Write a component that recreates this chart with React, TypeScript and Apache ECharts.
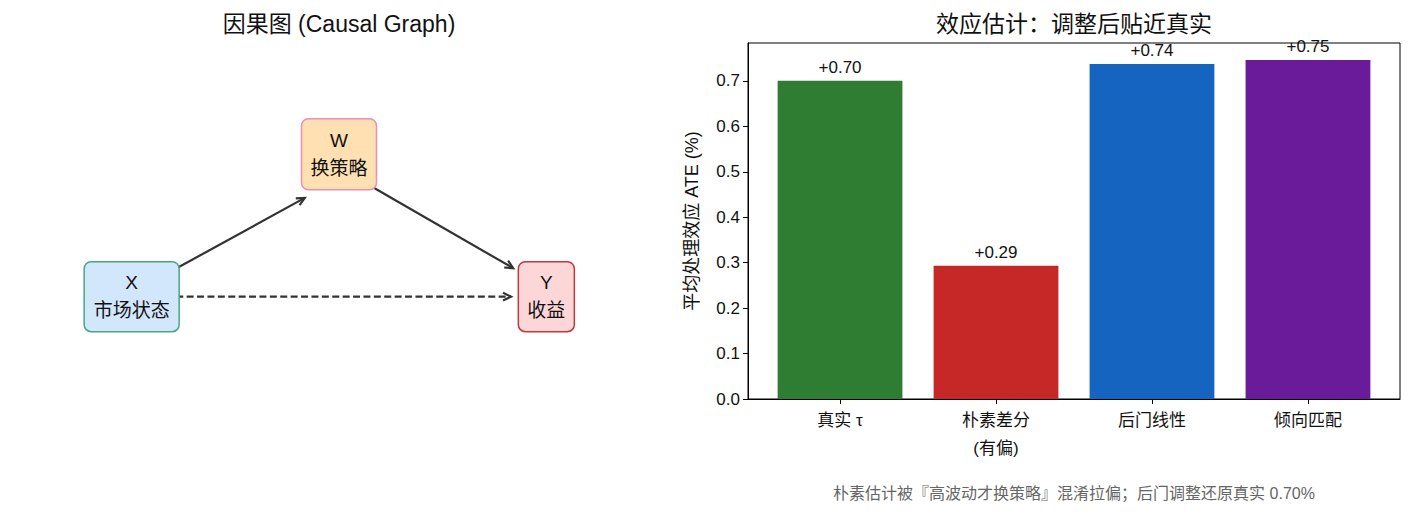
import React, { useEffect, useRef } from "react";
import * as echarts from "echarts";

// ---- data ----
const categories = ["真实 τ", "朴素差分\n(有偏)", "后门线性", "倾向匹配"];
const ateValues = [0.70, 0.293, 0.737, 0.746];
const barColors = ["#2e7d32", "#c62828", "#1565c0", "#6a1b9a"];
const yTicks = [0, 0.1, 0.2, 0.3, 0.4, 0.5, 0.6, 0.7];

const nodeNames = ["X", "W", "Y"];
const nodeLabels = ["市场状态", "换策略", "收益"];
const nodeX = [1, 3, 5];
const nodeY = [1.15, 2.75, 1.15];
const nodeFill = ["#d2e7fc", "#ffe0b2", "#fdd7d8"];
const nodeStroke = ["#45a97c", "#ec8fb0", "#c0393b"];
const nodeW = [95, 75, 56];
const nodeH = [70, 71, 70];

// edges: [x1, y1, x2, y2, dashed]
const edges = [
  [1.42, 1.46, 2.67, 2.26, 0],
  [3.31, 2.39, 4.68, 1.47, 0],
  [1.43, 1.15, 4.66, 1.15, 1],
];

const titleLeft = "因果图 (Causal Graph)";
const titleRight = "效应估计：调整后贴近真实";
const yAxisName = "平均处理效应 ATE (%)";
const footnote = "朴素估计被『高波动才换策略』混淆拉偏；后门调整还原真实 0.70%";

const FONT = "'Liberation Sans', 'Noto Sans CJK SC', sans-serif";

export default function App() {
  const ref = useRef<HTMLDivElement>(null);
  useEffect(() => {
    document.body.style.margin = "0";
    if (!ref.current) return;
    const chart = echarts.init(ref.current, null, { renderer: "svg" });

    const gL = { left: 28, top: 43, width: 622, height: 356 };
    const gR = { left: 748, top: 43, width: 652, height: 356 };
    const xMin = -0.59, xMax = 3.59;
    const yMax = Math.max(...ateValues) * 1.05;
    const barPx = (0.8 * gR.width) / (xMax - xMin);

    const option: any = {
      animation: false,
      grid: [
        { ...gL, show: false },
        { ...gR, show: true, borderColor: "#000", borderWidth: 1, backgroundColor: "transparent" },
      ],
      xAxis: [
        { gridIndex: 0, type: "value", min: 0, max: 6, show: false },
        {
          gridIndex: 1,
          type: "value",
          min: xMin,
          max: xMax,
          splitLine: { show: false },
          axisLine: { show: true, onZero: false, lineStyle: { color: "#000", width: 1 } },
          axisTick: { show: true, customValues: [0, 1, 2, 3], length: 5, lineStyle: { color: "#000" } },
          axisLabel: {
            customValues: [0, 1, 2, 3],
            formatter: (v: number) => categories[Math.round(v)],
            color: "#111",
            fontSize: 17,
            fontFamily: FONT,
            lineHeight: 28,
            margin: 7,
            verticalAlign: "top",
          },
        },
      ],
      yAxis: [
        { gridIndex: 0, type: "value", min: 0, max: 4, show: false },
        {
          gridIndex: 1,
          type: "value",
          min: 0,
          max: yMax,
          splitLine: { show: false },
          axisLine: { show: true, onZero: false, lineStyle: { color: "#000", width: 1 } },
          axisTick: { show: true, customValues: yTicks, length: 5, lineStyle: { color: "#000" } },
          axisLabel: {
            customValues: yTicks,
            formatter: (v: number) => v.toFixed(1),
            color: "#111",
            fontSize: 17,
            fontFamily: FONT,
            margin: 8,
          },
          name: yAxisName,
          nameLocation: "middle",
          nameGap: 47,
          nameTextStyle: { color: "#111", fontSize: 18, fontFamily: FONT },
        },
      ],
      series: [
        {
          type: "custom",
          xAxisIndex: 0,
          yAxisIndex: 0,
          data: edges,
          z: 1,
          renderItem: (params: any, api: any) => {
            const p1 = api.coord([api.value(0), api.value(1)]);
            const p2 = api.coord([api.value(2), api.value(3)]);
            const dashed = api.value(4) === 1;
            const th = Math.atan2(p2[1] - p1[1], p2[0] - p1[0]);
            const L = 9, a = 0.45;
            const armA = [p2[0] - L * Math.cos(th - a), p2[1] - L * Math.sin(th - a)];
            const armB = [p2[0] - L * Math.cos(th + a), p2[1] - L * Math.sin(th + a)];
            return {
              type: "group",
              children: [
                {
                  type: "line",
                  shape: { x1: p1[0], y1: p1[1], x2: p2[0], y2: p2[1] },
                  style: { stroke: "#333", lineWidth: 2.2, lineDash: dashed ? [7, 3.4] : null },
                },
                {
                  type: "polyline",
                  shape: { points: [armA, p2, armB] },
                  style: { stroke: "#333", lineWidth: 2.2, fill: null },
                },
              ],
            };
          },
        },
        {
          type: "custom",
          xAxisIndex: 0,
          yAxisIndex: 0,
          z: 2,
          data: nodeX.map((x, i) => [x, nodeY[i]]),
          renderItem: (params: any, api: any) => {
            const i = params.dataIndex;
            const c = api.coord([api.value(0), api.value(1)]);
            const w = nodeW[i], h = nodeH[i];
            return {
              type: "group",
              children: [
                {
                  type: "rect",
                  shape: { x: c[0] - w / 2, y: c[1] - h / 2, width: w, height: h, r: 7 },
                  style: { fill: nodeFill[i], stroke: nodeStroke[i], lineWidth: 1.5 },
                },
                {
                  type: "text",
                  x: c[0],
                  y: c[1],
                  style: {
                    text: nodeNames[i] + "\n" + nodeLabels[i],
                    align: "center",
                    verticalAlign: "middle",
                    fontSize: 19,
                    fontFamily: FONT,
                    lineHeight: 28,
                    fill: "#111",
                  },
                },
              ],
            };
          },
        },
        {
          type: "bar",
          xAxisIndex: 1,
          yAxisIndex: 1,
          barWidth: barPx,
          data: ateValues.map((v, i) => ({ value: [i, v], itemStyle: { color: barColors[i] } })),
          label: {
            show: true,
            position: "top",
            distance: 5,
            formatter: (p: any) => "+" + p.value[1].toFixed(2),
            color: "#111",
            fontSize: 17,
            fontFamily: FONT,
          },
        },
      ],
      graphic: [
        {
          type: "text",
          x: 339,
          y: 24,
          style: { text: titleLeft, align: "center", verticalAlign: "middle", fontSize: 23, fontFamily: FONT, fill: "#111" },
        },
        {
          type: "text",
          x: 1074,
          y: 24,
          style: { text: titleRight, align: "center", verticalAlign: "middle", fontSize: 23, fontFamily: FONT, fill: "#111" },
        },
        {
          type: "text",
          x: 1074,
          y: 493,
          style: { text: footnote, align: "center", verticalAlign: "middle", fontSize: 16, fontFamily: FONT, fill: "#666" },
        },
      ],
    };
    chart.setOption(option);
    return () => chart.dispose();
  }, []);
  return <div ref={ref} style={{ width: 1413, height: 514 }} />;
}
